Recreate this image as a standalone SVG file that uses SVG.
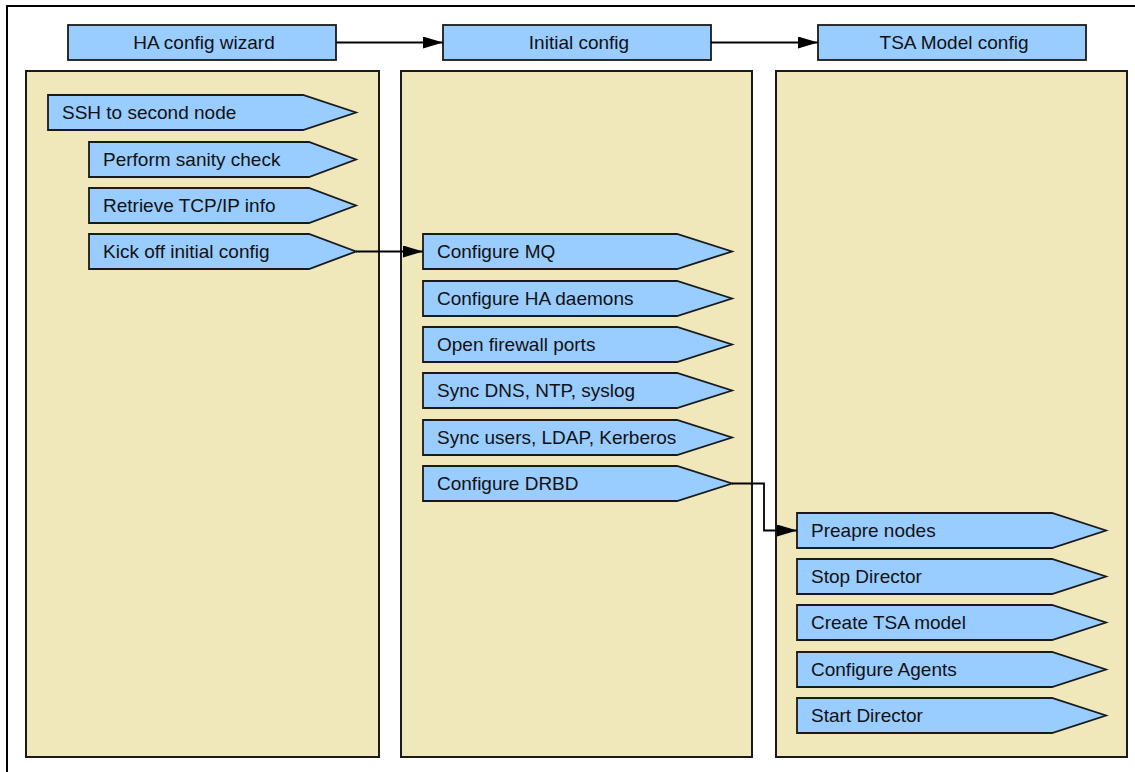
<svg xmlns="http://www.w3.org/2000/svg" width="1135" height="772" viewBox="0 0 1135 772">
<defs>
<style>
.panel{fill:#f0e7ba;stroke:#1a1a1a;stroke-width:2}
.box{fill:#99ccff;stroke:#1a1a1a;stroke-width:1.8}
.t{font-family:"Liberation Sans",Arial,sans-serif;font-size:19px;fill:#111}
.c{text-anchor:middle}
.conn{fill:none;stroke:#000;stroke-width:1.8}
</style>
<marker id="ah" viewBox="0 0 10 10" refX="10" refY="5" markerWidth="6" markerHeight="6" markerUnits="userSpaceOnUse" orient="auto">
<path d="M0,0 L10,5 L0,10 z" fill="#000"/>
</marker>
<marker id="ah2" viewBox="0 0 20 12" refX="20" refY="6" markerWidth="20" markerHeight="12" markerUnits="userSpaceOnUse" orient="auto">
<path d="M0,0 L20,6 L0,12 z" fill="#000"/>
</marker>
</defs>
<rect width="1135" height="772" fill="#fff"/>
<path d="M7,772 V6 H1135" fill="none" stroke="#000" stroke-width="2"/>

<g id="panel1"><rect class="panel" x="26" y="71" width="353" height="686"/></g>
<g id="panel2"><rect class="panel" x="401" y="71" width="351" height="686"/></g>
<g id="panel3"><rect class="panel" x="776" y="71" width="351" height="686"/></g>

<g id="h1"><rect class="box" x="68" y="25" width="268" height="35"/><text class="t c" x="204" y="49">HA config wizard</text></g>
<g id="h2"><rect class="box" x="443" y="25" width="268" height="35"/><text class="t c" x="579" y="49">Initial config</text></g>
<g id="h3"><rect class="box" x="818" y="25" width="268" height="35"/><text class="t c" x="954" y="49">TSA Model config</text></g>

<g id="n-ssh"><path class="box" d="M48,95 H303 L356,112.5 L303,130 H48 Z"/><text class="t" x="62" y="119">SSH to second node</text></g>
<g id="n-sanity"><path class="box" d="M89,142 H309 L356,159.5 L309,177 H89 Z"/><text class="t" x="103" y="166">Perform sanity check</text></g>
<g id="n-tcpip"><path class="box" d="M89,188 H309 L356,205.5 L309,223 H89 Z"/><text class="t" x="103" y="212">Retrieve TCP/IP info</text></g>
<g id="n-kick"><path class="box" d="M89,234 H309 L356,251.5 L309,269 H89 Z"/><text class="t" x="103" y="258">Kick off initial config</text></g>

<g id="n-mq"><path class="box" d="M423,234 H677 L732,251.5 L677,269 H423 Z"/><text class="t" x="437" y="258">Configure MQ</text></g>
<g id="n-had"><path class="box" d="M423,281 H677 L732,298.5 L677,316 H423 Z"/><text class="t" x="437" y="305">Configure HA daemons</text></g>
<g id="n-fw"><path class="box" d="M423,327 H677 L732,344.5 L677,362 H423 Z"/><text class="t" x="437" y="351">Open firewall ports</text></g>
<g id="n-dns"><path class="box" d="M423,373 H677 L732,390.5 L677,408 H423 Z"/><text class="t" x="437" y="397">Sync DNS, NTP, syslog</text></g>
<g id="n-users"><path class="box" d="M423,420 H677 L732,437.5 L677,455 H423 Z"/><text class="t" x="437" y="444">Sync users, LDAP, Kerberos</text></g>
<g id="n-drbd"><path class="box" d="M423,466 H677 L732,483.5 L677,501 H423 Z"/><text class="t" x="437" y="490">Configure DRBD</text></g>

<g id="n-prep"><path class="box" d="M797,513 H1052 L1106,530.5 L1052,548 H797 Z"/><text class="t" x="811" y="537">Preapre nodes</text></g>
<g id="n-stop"><path class="box" d="M797,559 H1052 L1106,576.5 L1052,594 H797 Z"/><text class="t" x="811" y="583">Stop Director</text></g>
<g id="n-tsa"><path class="box" d="M797,605 H1052 L1106,622.5 L1052,640 H797 Z"/><text class="t" x="811" y="629">Create TSA model</text></g>
<g id="n-agents"><path class="box" d="M797,652 H1052 L1106,669.5 L1052,687 H797 Z"/><text class="t" x="811" y="676">Configure Agents</text></g>
<g id="n-start"><path class="box" d="M797,698 H1052 L1106,715.5 L1052,733 H797 Z"/><text class="t" x="811" y="722">Start Director</text></g>

<g id="connectors">
<path class="conn" d="M336,42.5 H443" marker-end="url(#ah2)"/>
<path class="conn" d="M711,42.5 H818" marker-end="url(#ah2)"/>
<path class="conn" d="M356,251.5 H423" marker-end="url(#ah2)"/>
<path class="conn" d="M732,483.5 H764 V530.5 H797" marker-end="url(#ah2)"/>
</g>
</svg>
